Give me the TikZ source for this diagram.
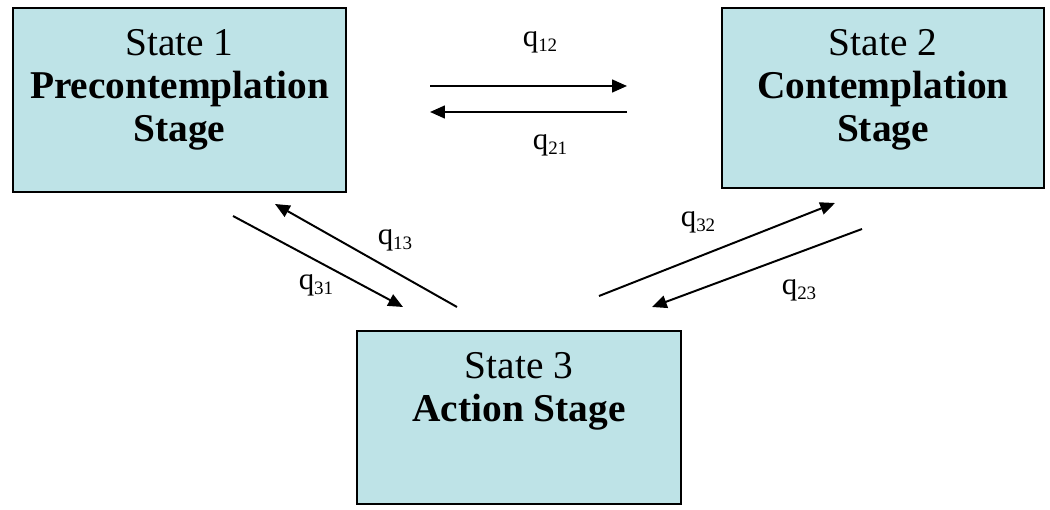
\documentclass[tikz,border=0pt]{standalone}
\usepackage{fontspec}
\setmainfont{Liberation Serif}
\usepackage{xcolor}
\usetikzlibrary{arrows.meta}
\definecolor{stagecyan}{HTML}{BEE3E7}

\newcommand{\stagetext}[3]{\parbox[t][#2][t]{#1}{\centering\fontsize{28}{30.6}\selectfont\vspace*{15.5pt}#3}}
\newcommand{\rate}[1]{{\fontsize{22}{22}\selectfont q}\raisebox{-3pt}{\fontsize{13.5}{13.5}\selectfont #1}}

\tikzset{
  stagebox/.style={draw=black, fill=stagecyan, line width=1.4pt, inner sep=0pt, anchor=north west},
  ratearrow/.style={line width=1.4pt, -{Triangle[length=10.5pt, width=9pt]}},
  ratelabel/.style={anchor=base, inner sep=0pt}
}

\begin{document}
\begin{tikzpicture}[x=0.025cm, y=-0.025cm]
    \useasboundingbox (0,0) rectangle (1050,510);

    % states
    \node[stagebox] (s1) at (12,7) {\stagetext{8.325cm}{4.6cm}{State 1\\\textbf{Precontemplation}\\\textbf{Stage}}};
    \node[stagebox] (s2) at (721,7) {\stagetext{8.05cm}{4.5cm}{State 2\\\textbf{Contemplation}\\\textbf{Stage}}};
    \node[stagebox] (s3) at (356,330) {\stagetext{8.1cm}{4.325cm}{State 3\\\textbf{Action Stage}}};

    % arrow ends
    \coordinate (h12s) at (430,86);  \coordinate (h12e) at (627,86);
    \coordinate (h21s) at (627,112); \coordinate (h21e) at (430,112);
    \coordinate (d31s) at (233,216); \coordinate (d31e) at (403,307);
    \coordinate (d13s) at (457,307); \coordinate (d13e) at (275,204);
    \coordinate (d32s) at (599,296); \coordinate (d32e) at (835,203);
    \coordinate (d23s) at (862,229); \coordinate (d23e) at (652,307);

    \draw[ratearrow] (h12s) -- (h12e);
    \draw[ratearrow] (h21s) -- (h21e);
    \draw[ratearrow] (d31s) -- (d31e);
    \draw[ratearrow] (d13s) -- (d13e);
    \draw[ratearrow] (d32s) -- (d32e);
    \draw[ratearrow] (d23s) -- (d23e);

    % rates
    \node[ratelabel] (q12) at (540,47)  {\rate{12}};
    \node[ratelabel] (q21) at (550,150) {\rate{21}};
    \node[ratelabel] (q13) at (395,245) {\rate{13}};
    \node[ratelabel] (q31) at (316,290) {\rate{31}};
    \node[ratelabel] (q32) at (698,227) {\rate{32}};
    \node[ratelabel] (q23) at (799,295) {\rate{23}};
\end{tikzpicture}
\end{document}
